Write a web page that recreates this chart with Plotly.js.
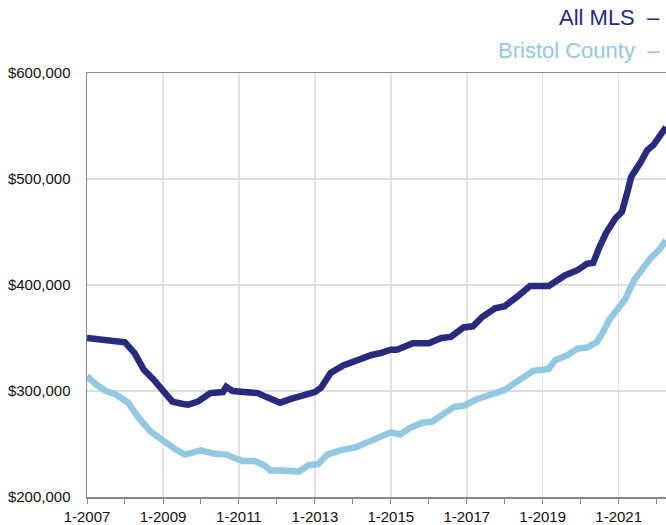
<!DOCTYPE html>
<html>
<head>
<meta charset="utf-8">
<script src="https://cdn.plot.ly/plotly-3.0.1.min.js"></script>
<style>html,body{margin:0;padding:0;background:#fff;}#chart{width:666px;height:525px;}</style>
</head>
<body>
<div id="chart"></div>
<script>
// All MLS median price (dates / values)
const mlsDates = ["2007-01","2007-04","2007-07","2007-10","2008-01","2008-04","2008-07","2008-10","2009-01","2009-04","2009-07","2009-09","2009-12","2010-04","2010-08","2010-09","2010-11","2011-03","2011-07","2011-10","2012-02","2012-06","2012-10","2013-01","2013-03","2013-06","2013-10","2014-02","2014-07","2014-10","2015-01","2015-03","2015-08","2016-01","2016-05","2016-08","2016-12","2017-03","2017-06","2017-10","2018-01","2018-05","2018-09","2019-01","2019-03","2019-08","2019-12","2020-03","2020-05","2020-07","2020-09","2020-12","2021-02","2021-04","2021-05","2021-08","2021-10","2021-12","2022-03","2022-04"];
const mlsValues = [350000,349000,349000,347000,346000,336000,320000,311000,301000,290000,288000,287000,290000,298000,299000,304000,300000,299000,298000,294000,289000,293000,296000,299000,303000,317000,324000,329000,334000,336000,339000,339000,345000,345000,350000,351000,360000,361000,370000,378000,380000,389000,399000,399000,399000,409000,414000,420000,421000,436000,449000,463000,469000,490000,502000,516000,527000,532000,543000,549000];

// Bristol County median price
const bristolDates = ["2007-01","2007-04","2007-07","2007-10","2008-02","2008-05","2008-09","2009-01","2009-05","2009-08","2010-01","2010-05","2010-09","2011-02","2011-06","2011-09","2011-11","2012-03","2012-08","2012-11","2013-02","2013-05","2013-09","2014-02","2014-06","2014-09","2015-01","2015-04","2015-07","2015-11","2016-02","2016-05","2016-09","2016-12","2017-04","2017-08","2018-01","2018-03","2018-07","2018-10","2019-01","2019-03","2019-05","2019-09","2019-12","2020-03","2020-06","2020-08","2020-10","2020-12","2021-03","2021-06","2021-08","2021-11","2022-02","2022-04"];
const bristolValues = [314000,306000,300000,297000,289000,276000,262000,253000,245000,240000,244000,241000,240000,234000,234000,230000,225000,225000,224000,230000,231000,240000,244000,247000,252000,256000,261000,259000,265000,270000,271000,277000,285000,286000,292000,296000,301000,305000,313000,319000,320000,321000,329000,334000,340000,341000,346000,355000,367000,374000,386000,405000,414000,425000,434000,442000];

const seriesNames = ["All MLS", "Bristol County"];
const yTickVals = [200000, 300000, 400000, 500000, 600000];

const dark = "#282a7e";
const light = "#93c8e3";

const traces = [
  {x: bristolDates, y: bristolValues, name: seriesNames[1], type: "scatter", mode: "lines",
   line: {color: light, width: 6.5}},
  {x: mlsDates, y: mlsValues, name: seriesNames[0], type: "scatter", mode: "lines",
   line: {color: dark, width: 6.5}}
];

const layout = {
  width: 666, height: 525,
  margin: {l: 87, r: 0, t: 73, b: 28},
  paper_bgcolor: "#fff", plot_bgcolor: "#fff",
  showlegend: false,
  font: {family: "Liberation Sans, Arial, sans-serif", size: 15, color: "#111"},
  xaxis: {
    type: "date",
    range: ["2007-01-01", "2022-04-01"],
    tick0: "2007-01-01", dtick: "M24",
    tickformat: "%-m-%Y",
    ticks: "outside", ticklen: 5, tickcolor: "#888", tickwidth: 1,
    showgrid: true, gridcolor: "#e3e3e3", gridwidth: 1.5,
    showline: true, linecolor: "#888", linewidth: 1.5, mirror: true,
    minor: {dtick: "M12", tick0: "2007-01-01", ticks: "outside", ticklen: 5, tickcolor: "#888", showgrid: false},
    zeroline: false, fixedrange: true
  },
  yaxis: {
    range: [200000, 600000],
    tickvals: yTickVals,
    tickformat: "$,.0f",
    ticks: "outside", ticklen: 12, tickcolor: "rgba(0,0,0,0)",
    showgrid: true, gridcolor: "#dddddd", gridwidth: 1.5,
    showline: true, linecolor: "#888", linewidth: 1.5,
    zeroline: false, fixedrange: true
  },
  annotations: [
    {xref: "paper", yref: "paper", x: 1, y: 1, xanchor: "right", yanchor: "middle",
     xshift: -4, yshift: 56, text: seriesNames[0] + "  \u2013", showarrow: false,
     font: {family: "Liberation Sans, Arial, sans-serif", size: 22, color: dark}},
    {xref: "paper", yref: "paper", x: 1, y: 1, xanchor: "right", yanchor: "middle",
     xshift: -4, yshift: 23, text: seriesNames[1] + "  \u2013", showarrow: false,
     font: {family: "Liberation Sans, Arial, sans-serif", size: 22, color: light}}
  ]
};

Plotly.newPlot("chart", traces, layout, {displayModeBar: false, staticPlot: true});
</script>
</body>
</html>
